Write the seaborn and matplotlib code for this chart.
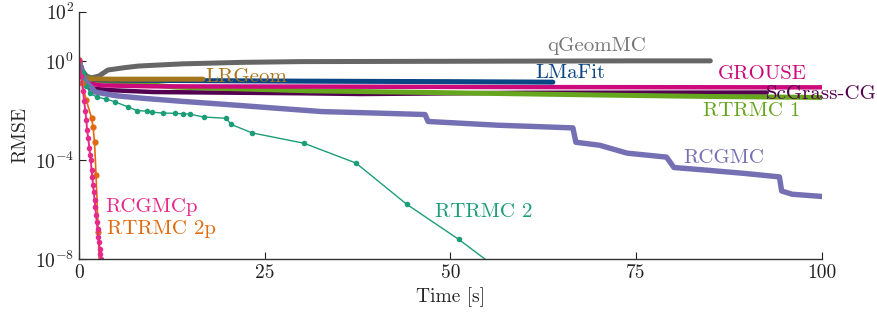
import numpy as np
import pandas as pd
import matplotlib
matplotlib.use("Agg")
import matplotlib.pyplot as plt
import seaborn as sns

# ---- data (time in s, log10 RMSE) ----
qgeom_t = [0, 0.5, 1.0, 1.7, 2.7, 3.9, 6, 8, 10.6, 14, 18, 22, 30, 45, 60, 75, 85]
qgeom_v = [0.05, -0.4, -0.6, -0.68, -0.6, -0.36, -0.27, -0.2, -0.16, -0.11, -0.08, -0.05, -0.02, -0.01, 0.0, 0.01, 0.01]

lmafit_t = [0, 0.5, 1.0, 3, 10, 30, 50, 63.8]
lmafit_v = [0.05, -0.5, -0.72, -0.76, -0.78, -0.81, -0.83, -0.85]

grouse_t = [0, 0.5, 1.0, 3, 10, 30, 60, 100]
grouse_v = [0.0, -0.6, -0.88, -0.98, -1.02, -1.03, -1.05, -1.06]

scgrass_t = [0, 0.5, 1.5, 3.9, 10, 30, 38, 60, 92.6]
scgrass_v = [0.0, -0.7, -1.1, -1.17, -1.25, -1.3, -1.33, -1.28, -1.27]

rtrmc1_t = [0, 0.5, 0.8, 2.4, 13, 31, 50, 70, 85, 100]
rtrmc1_v = [0.0, -0.5, -0.64, -0.77, -1.05, -1.2, -1.28, -1.37, -1.43, -1.47]

lrgeom_t = [0, 0.4, 1.0, 5, 16.7]
lrgeom_v = [0.05, -0.5, -0.72, -0.73, -0.73]

rcgmc_t = [0, 0.8, 2.2, 5, 8.5, 13.6, 17.4, 22, 26.4, 32.7, 40, 46.6, 47.0, 52, 56.3, 62, 66.5, 66.9, 70.1,
           73.8, 79.1, 80.1, 85, 90, 94.3, 94.6, 96, 100]
rcgmc_v = [0.0, -0.77, -1.25, -1.4, -1.5, -1.62, -1.7, -1.8, -1.9, -2.04, -2.1, -2.16, -2.44, -2.52, -2.59, -2.65, -2.7,
           -3.28, -3.4, -3.72, -3.88, -4.3, -4.42, -4.55, -4.68, -5.25, -5.38, -5.47]

rtrmc2_t = [0, 0.5, 1.0, 1.5, 2.4, 3.7, 4.8, 6.6, 7.8, 9.1, 9.8, 11.3, 12.9, 14.0, 14.9, 16.8, 19.8, 20.5, 23.3,
            30.3, 37.3, 44.1, 51.1, 56.0]
rtrmc2_v = [0.05, -0.5, -1.0, -1.3, -1.45, -1.54, -1.64, -1.85, -2.0, -2.02, -2.06, -2.1, -2.11, -2.13, -2.14,
            -2.26, -2.31, -2.56, -2.9, -3.32, -4.12, -5.78, -7.2, -8.3]

rcgmcp_t = [0, 0.3, 0.55, 0.7, 0.85, 1.0, 1.1, 1.25, 1.4, 1.5, 1.6, 1.7, 1.8, 1.9, 2.0, 2.1, 2.2, 2.3, 2.4,
            2.5, 2.6, 2.7, 2.8, 2.9, 3.0]
rcgmcp_v = [0.05, -0.6, -1.2, -1.6, -2.0, -2.4, -2.8, -3.1, -3.5, -3.8, -4.0, -4.4, -4.7, -5.0, -5.3, -5.6, -5.9,
            -6.2, -6.5, -6.8, -7.1, -7.3, -7.6, -7.8, -8.0]

rtrmc2p_t = [0, 0.4, 1.0, 1.7, 1.9, 2.1, 2.3, 2.6, 2.75]
rtrmc2p_v = [0.05, -0.9, -1.58, -2.3, -2.66, -3.26, -4.6, -6.9, -8.3]

x_ticks = [0, 25, 50, 75, 100]
y_ticks = [1e-8, 1e-4, 1e0, 1e2]

# ---- style ----
sns.set_theme(style="ticks")
plt.rcParams["font.family"] = ["cmr10"]
plt.rcParams["mathtext.fontset"] = "cm"
plt.rcParams["axes.formatter.use_mathtext"] = True
plt.rcParams["axes.unicode_minus"] = False

fig = plt.figure(figsize=(8.77, 3.23), dpi=100)
ax = fig.add_axes([0.090, 0.198, 0.847, 0.766])

series = [
    ("qGeomMC", qgeom_t, qgeom_v, "#666666", 3.6, None, 0),
    ("ScGrass-CG", scgrass_t, scgrass_v, "#52004f", 3.2, None, 0),
    ("RTRMC 1", rtrmc1_t, rtrmc1_v, "#66a61e", 3.6, None, 0),
    ("GROUSE", grouse_t, grouse_v, "#cc0a7c", 3.2, None, 0),
    ("LMaFit", lmafit_t, lmafit_v, "#0a4584", 3.6, None, 0),
    ("LRGeom", lrgeom_t, lrgeom_v, "#a6761d", 3.6, None, 0),
    ("RCGMC", rcgmc_t, rcgmc_v, "#7570b3", 3.9, None, 0),
    ("RTRMC 2", rtrmc2_t, rtrmc2_v, "#1b9e77", 1.0, "o", 4),
    ("RTRMC 2p", rtrmc2p_t, rtrmc2p_v, "#e06a10", 1.2, "o", 4.5),
    ("RCGMCp", rcgmcp_t, rcgmcp_v, "#e7298a", 1.4, "o", 4),
]

for name, t, v, c, lw, mk, ms in series:
    df = pd.DataFrame({"t": t, "rmse": np.power(10.0, np.array(v))})
    kw = dict(color=c, linewidth=lw, ax=ax, legend=False, sort=False, estimator=None)
    if mk:
        kw.update(marker=mk, markersize=ms, markeredgewidth=0)
    else:
        kw.update(solid_capstyle="round")
    sns.lineplot(data=df, x="t", y="rmse", **kw)

labels = [
    ("qGeomMC", 63.1, 0.62, "#777777"),
    ("LMaFit", 61.4, -0.5, "#0a4584"),
    ("GROUSE", 86.0, -0.53, "#cc0a7c"),
    ("ScGrass-CG", 92.5, -1.33, "#52004f"),
    ("RTRMC 1", 84.0, -2.0, "#66a61e"),
    ("LRGeom", 17.0, -0.65, "#a6761d"),
    ("RCGMC", 81.4, -3.92, "#7570b3"),
    ("RTRMC 2", 47.9, -6.1, "#1b9e77"),
    ("RCGMCp", 3.5, -5.9, "#e7298a"),
    ("RTRMC 2p", 3.8, -6.8, "#e06a10"),
]
for txt, x, v, c in labels:
    ax.text(x, 10.0 ** v, txt, color=c, fontsize=15, ha="left", va="center")

ax.set_yscale("log")
ax.set_xlim(0, 100)
ax.set_ylim(1e-8, 1e2)
ax.set_xticks(x_ticks)
ax.set_xticklabels([str(x) for x in x_ticks])
ax.set_yticks(y_ticks)
ax.minorticks_off()
ax.tick_params(direction="in", length=5, width=0.8, labelsize=14, colors="#222222")
ax.set_xlabel("Time [s]", fontsize=14)
ax.set_ylabel("RMSE", fontsize=14)
sns.despine(ax=ax)
for s in ("left", "bottom"):
    ax.spines[s].set_linewidth(1.0)
    ax.spines[s].set_color("#333333")

fig.savefig("out.png", dpi=100)
